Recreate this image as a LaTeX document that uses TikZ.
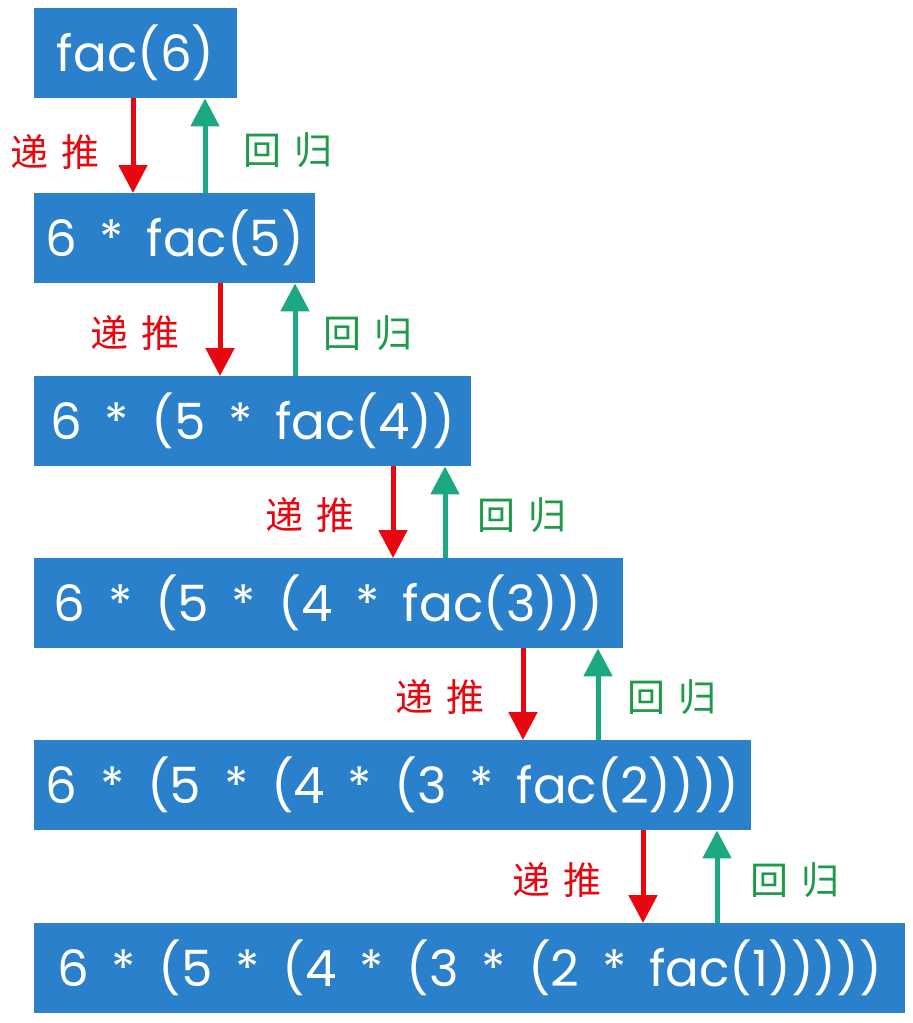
\documentclass[tikz,border=0pt]{standalone}
\usepackage{fontspec}
\setmainfont{Poppins}[WordSpace=1.7]
\newfontfamily\cjk{Noto Sans CJK SC}
\usetikzlibrary{arrows.meta}
\definecolor{boxblue}{HTML}{2B80CC}
\definecolor{arrred}{HTML}{E8060F}
\definecolor{arrgreen}{HTML}{1CA882}
\definecolor{labgreen}{HTML}{1E9A48}
\tikzset{
  box/.style={fill=boxblue, draw=none, anchor=north west, minimum height=90pt, inner sep=0pt, text=white, font=\fontsize{50}{52}\selectfont, align=center},
  down/.style={draw=arrred, line width=5pt, -{Triangle[width=28pt,length=28pt]}, shorten >=0pt},
  up/.style={draw=arrgreen, line width=5pt, -{Triangle[width=28pt,length=28pt]}},
  lred/.style={text=arrred, font=\cjk\fontsize{38}{40}\selectfont},
  lgreen/.style={text=labgreen, font=\cjk\fontsize{38}{40}\selectfont},
}
\newcommand{\dt}{递\hspace{14pt}推}
\newcommand{\hg}{回\hspace{14pt}归}
\begin{document}
\begin{tikzpicture}[x=1pt,y=-1pt]
\useasboundingbox (0,0) rectangle (913,1023);
\fill[white] (0,0) rectangle (913,1023);
\node[box, minimum width=203pt] (b1) at (34,8) {fac(6)};
\node[box, minimum width=281pt] (b2) at (34,193) {6 * fac(5)};
\node[box, minimum width=437pt] (b3) at (34,376) {6 * (5 * fac(4))};
\node[box, minimum width=589pt] (b4) at (34,558) {6 * (5 * (4 * fac(3)))};
\node[box, minimum width=717pt] (b5) at (34,740) {6 * (5 * (4 * (3 * fac(2))))};
\node[box, minimum width=871pt] (b6) at (34,923) {6 * (5 * (4 * (3 * (2 * fac(1)))))};
% arrow columns
\coordinate (r1) at (133,0); \coordinate (g1) at (205,0);
\coordinate (r2) at (220,0); \coordinate (g2) at (295,0);
\coordinate (r3) at (393,0); \coordinate (g3) at (445,0);
\coordinate (r4) at (523,0); \coordinate (g4) at (598,0);
\coordinate (r5) at (643,0); \coordinate (g5) at (717,0);
\draw[down] (b1.south -| r1) -- (b2.north -| r1);
\draw[up] (b2.north -| g1) -- (b1.south -| g1);
\draw[down] (b2.south -| r2) -- (b3.north -| r2);
\draw[up] (b3.north -| g2) -- (b2.south -| g2);
\draw[down] (b3.south -| r3) -- (b4.north -| r3);
\draw[up] (b4.north -| g3) -- (b3.south -| g3);
\draw[down] (b4.south -| r4) -- (b5.north -| r4);
\draw[up] (b5.north -| g4) -- (b4.south -| g4);
\draw[down] (b5.south -| r5) -- (b6.north -| r5);
\draw[up] (b6.north -| g5) -- (b5.south -| g5);
% labels
\node[lred] (d1) at (55,152) {\dt};
\node[lgreen] (h1) at (288,150) {\hg};
\node[lred] (d2) at (135,333) {\dt};
\node[lgreen] (h2) at (368,333) {\hg};
\node[lred] (d3) at (310,515) {\dt};
\node[lgreen] (h3) at (522,515) {\hg};
\node[lred] (d4) at (440,697) {\dt};
\node[lgreen] (h4) at (672,697) {\hg};
\node[lred] (d5) at (557,880) {\dt};
\node[lgreen] (h5) at (795,880) {\hg};
\end{tikzpicture}
\end{document}
